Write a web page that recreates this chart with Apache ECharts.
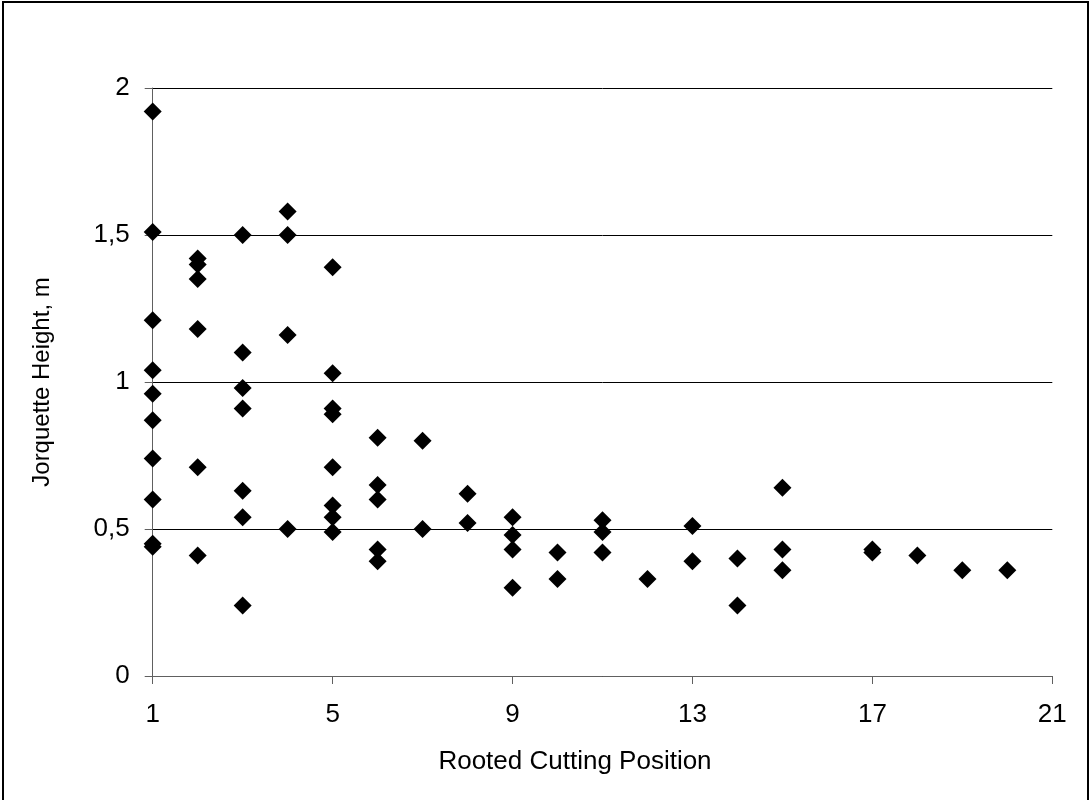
<!DOCTYPE html>
<html>
<head>
<meta charset="utf-8">
<script src="https://cdn.jsdelivr.net/npm/echarts@6/dist/echarts.min.js"></script>
<style>
html,body{margin:0;padding:0;background:#fff;}
#chart{width:1090px;height:800px;}
</style>
</head>
<body>
<div id="chart"></div>
<script>
// Rooted cutting position (x) and jorquette height in m (y)
var positions = [
  1,1,1,1,1,1,1,1,1,1,
  2,2,2,2,2,2,
  3,3,3,3,3,3,3,
  4,4,4,4,
  5,5,5,5,5,5,5,5,
  6,6,6,6,6,
  7,7,
  8,8,
  9,9,9,9,
  10,10,
  11,11,11,
  12,
  13,13,
  14,14,
  15,15,15,
  17,17,
  18,
  19,
  20
];
var heights = [
  1.92,1.51,1.21,1.04,0.96,0.87,0.74,0.60,0.45,0.44,
  1.42,1.40,1.35,1.18,0.71,0.41,
  1.50,1.10,0.98,0.91,0.63,0.54,0.24,
  1.58,1.50,1.16,0.50,
  1.39,1.03,0.91,0.89,0.71,0.58,0.54,0.49,
  0.81,0.65,0.60,0.43,0.39,
  0.80,0.50,
  0.62,0.52,
  0.54,0.48,0.43,0.30,
  0.42,0.33,
  0.53,0.49,0.42,
  0.33,
  0.51,0.39,
  0.40,0.24,
  0.64,0.43,0.36,
  0.43,0.42,
  0.41,
  0.36,
  0.36
];
var xTicks = [1, 5, 9, 13, 17, 21];
var yTicks = ['0', '0,5', '1', '1,5', '2'];
var xTitle = 'Rooted Cutting Position';
var yTitle = 'Jorquette Height, m';

var points = positions.map(function (p, i) { return [p, heights[i]]; });

var chart = echarts.init(document.getElementById('chart'), null, {renderer: 'canvas'});
var font = 'Liberation Sans, Arial, sans-serif';
chart.setOption({
  animation: false,
  backgroundColor: '#fff',
  graphic: [{
    type: 'rect',
    shape: {x: 3, y: 2, width: 1085, height: 830},
    style: {fill: null, stroke: '#000', lineWidth: 2},
    silent: true
  }],
  grid: {left: 152.7, right: 37.7, top: 88, bottom: 124, containLabel: false},
  xAxis: {
    type: 'value',
    min: xTicks[0],
    max: xTicks[xTicks.length - 1],
    interval: xTicks[1] - xTicks[0],
    name: xTitle,
    nameLocation: 'middle',
    nameGap: 73,
    nameTextStyle: {fontFamily: font, fontSize: 26, color: '#000', padding: [0, 55, 0, 0]},
    axisLine: {show: true, onZero: false, lineStyle: {color: '#606060', width: 1}},
    axisTick: {show: true, length: 8, lineStyle: {color: '#606060'}},
    axisLabel: {
      fontFamily: font, fontSize: 26, color: '#000', margin: 26,
      formatter: function (v) { return xTicks.indexOf(v) >= 0 ? String(v) : ''; }
    },
    splitLine: {show: false}
  },
  yAxis: {
    type: 'value',
    min: 0,
    max: 2,
    interval: 0.5,
    name: yTitle,
    nameLocation: 'middle',
    nameGap: 98,
    nameRotate: 90,
    nameTextStyle: {fontFamily: font, fontSize: 24, color: '#000'},
    axisLine: {show: true, lineStyle: {color: '#606060', width: 1}},
    axisTick: {show: true, length: 8, lineStyle: {color: '#606060'}},
    axisLabel: {
      fontFamily: font, fontSize: 26, color: '#000', margin: 23,
      formatter: function (v) { return yTicks[Math.round(v / 0.5)]; }
    },
    splitLine: {show: true, lineStyle: {color: '#000', width: 1}}
  },
  series: [{
    type: 'scatter',
    data: points,
    symbol: 'diamond',
    symbolSize: 18,
    itemStyle: {color: '#000', opacity: 1},
    z: 5
  }]
});
</script>
</body>
</html>
